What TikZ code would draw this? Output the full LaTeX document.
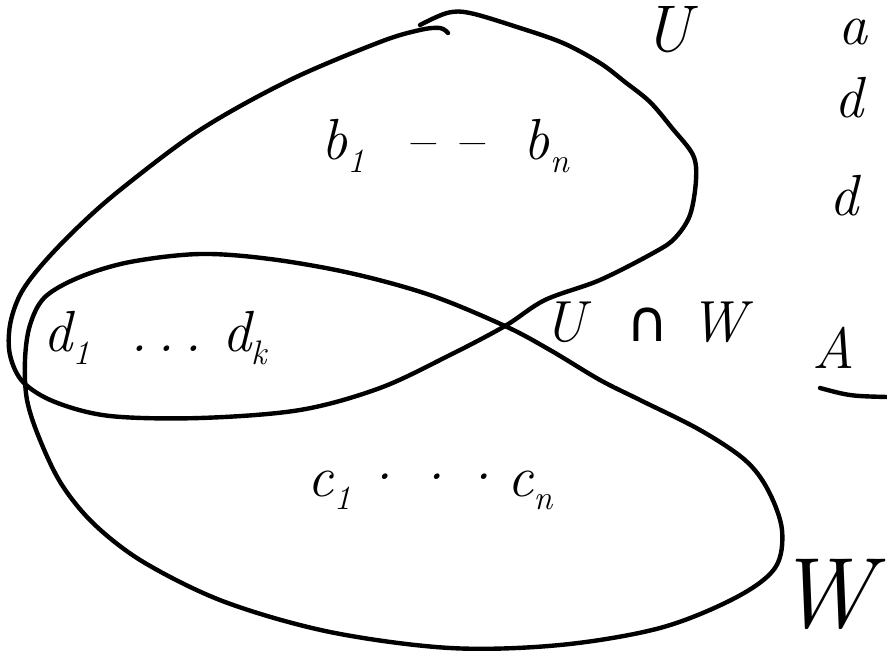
\documentclass[tikz,border=0pt]{standalone}
\usepackage{fontspec}
\newfontfamily\symfont{DejaVu Sans}
\newcommand\lowidx[1]{\raisebox{-0.22em}{\fontsize{34}{36}\selectfont #1}}
\begin{document}
\begin{tikzpicture}[x=1pt,y=-1pt,
  stroke/.style={line width=4.4pt,line cap=round,line join=round},
  hw/.style={font=\fontsize{58}{64}\selectfont\itshape,inner sep=0pt},
  hwbig/.style={font=\fontsize{100}{104}\selectfont\itshape,inner sep=0pt}]
\useasboundingbox (0,0) rectangle (887,651);
\clip (0,0) rectangle (887,651);
% set W (lower loop)
\draw[stroke] plot[smooth cycle,tension=0.55] coordinates {
 (505,326) (430,295) (350,273) (270,259) (200,254) (130,262) (80,277)
 (45,297) (30,325) (25,360) (27,400) (40,440) (62,485) (95,525) (145,563)
 (225,602) (330,632) (450,648) (560,645) (660,628) (735,598) (775,568)
 (782,530) (768,490) (745,460) (700,430) (640,400) (600,380) (550,350)};
% set U (upper loop)
\draw[stroke] plot[smooth,tension=0.55] coordinates {
 (420,25) (447,13) (470,13) (517,27) (563,43) (600,63) (625,82) (650,102)
 (672,128) (693,155) (696,180) (690,215) (675,238) (655,252) (600,280)
 (545,300) (505,326) (450,355) (380,388) (300,410) (200,418) (110,416) (55,402)
 (23,382) (10,355) (10,325) (20,295) (40,267) (75,230) (120,190) (200,130)
 (290,80) (380,42) (420,30) (440,28) (448,33)};
% labels
\node[hw] (b) at (445,146) {b\lowidx{1}\ \ --\ --\ \ b\lowidx{n}};
\node[hw] (d) at (155,338) {d\lowidx{1}\ \ .\,.\,.\ d\lowidx{k}};
\node[hw] (c) at (430,490) {c\lowidx{1}\hspace{8pt}·\hspace{8pt}·\hspace{4pt}·\hspace{6pt}c\lowidx{n}};
\node[hw] (uw) at (645,322) {U\ \ {\upshape\symfont ∩}\ W};
\node[font=\fontsize{66}{70}\selectfont\itshape,inner sep=0pt] (U) at (667,30) {U};
\node[hwbig] (W) at (824,594) {W};
% notes at the right edge
\node[hw,anchor=west] (r1) at (838,32) {a};
\node[hw,anchor=west] (r2) at (834,98) {d};
\node[hw,anchor=west] (r3) at (829,196) {d};
\node[hw,anchor=west] (r4) at (812,348) {A};
\draw[stroke] (820,388) .. controls (850,396) .. (887,397);
\end{tikzpicture}
\end{document}
